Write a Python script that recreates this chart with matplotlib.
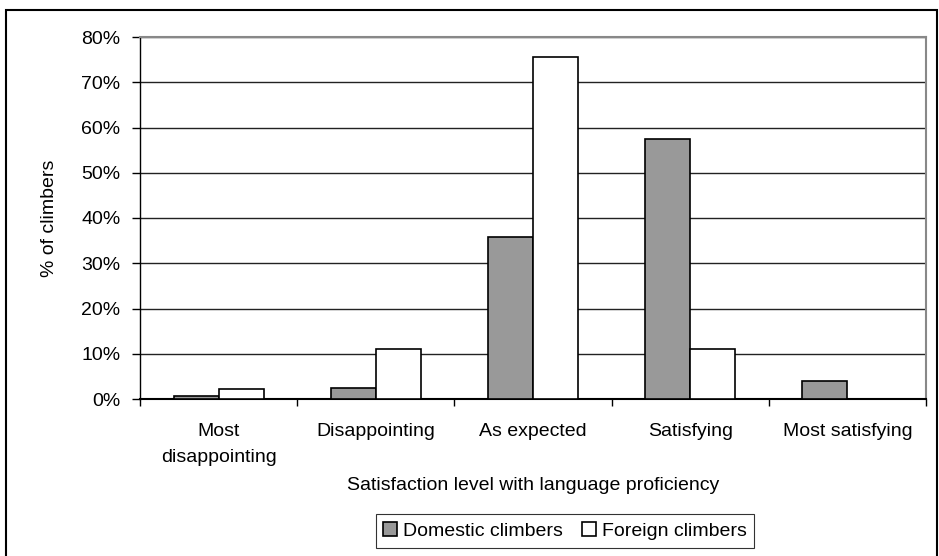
import matplotlib
matplotlib.use("Agg")
import matplotlib.pyplot as plt
import numpy as np
from matplotlib.patches import Rectangle
from matplotlib.ticker import FuncFormatter, MultipleLocator

categories = ["Most\ndisappointing", "Disappointing", "As expected", "Satisfying", "Most satisfying"]
domestic = [0.7, 2.4, 35.8, 57.4, 4.0]
foreign = [2.1, 11.1, 75.6, 11.1, 0.0]
series_names = ["Domestic climbers", "Foreign climbers"]

plt.rcParams["font.family"] = ["Liberation Sans", "DejaVu Sans"]
plt.rcParams["font.size"] = 14

W, H = 939, 556
fig = plt.figure(figsize=(W / 100, H / 100), dpi=100)
ax = fig.add_axes([140 / W, 1 - 399 / H, (926 - 140) / W, (399 - 37) / H])

x = np.arange(len(categories))
w = 2 / 7
ax.bar(x - w / 2, domestic, w, color="#999999", edgecolor="black", linewidth=1.2, zorder=3,
       label=series_names[0])
ax.bar(x + w / 2, foreign, w, color="white", edgecolor="black", linewidth=1.2, zorder=3,
       label=series_names[1])

ax.set_xlim(-0.5, len(categories) - 0.5)
ax.set_ylim(0, 80)
ax.yaxis.set_major_locator(MultipleLocator(10))
ax.yaxis.set_major_formatter(FuncFormatter(lambda v, p: f"{v:.0f}%"))
ax.grid(axis="y", color="#222222", linewidth=1.0, zorder=0)
ax.set_axisbelow(True)

ax.set_xticks(x)
ax.set_xticklabels(categories, linespacing=1.75)
ax.set_xticks(np.arange(len(categories) + 1) - 0.5, minor=True)
ax.tick_params(axis="x", which="major", length=0, pad=17)
ax.tick_params(axis="x", which="minor", length=5, width=1, color="black")
ax.tick_params(axis="y", length=6, width=1, color="black", pad=8)

for s in ["top", "right"]:
    ax.spines[s].set_color("#888888")
    ax.spines[s].set_linewidth(1.5)
ax.spines["left"].set_color("black")
ax.spines["bottom"].set_color("black")
ax.spines["left"].set_linewidth(1.0)
ax.spines["bottom"].set_linewidth(1.5)

ax.set_ylabel("% of climbers", labelpad=17)
ax.set_xlabel("Satisfaction level with language proficiency", labelpad=8)

leg = ax.legend(loc="center", bbox_to_anchor=(0.5 * (373 + 757) / W, 1 - 531 / H),
                bbox_transform=fig.transFigure, ncol=2, frameon=True, fancybox=False,
                edgecolor="black", handlelength=0.7, handleheight=0.7, handletextpad=0.3,
                columnspacing=1.0, borderpad=0.4)
leg.get_frame().set_linewidth(0.8)

# outer chart border
fig.patches.append(Rectangle((6 / W, -0.05), (937 - 6) / W, 1.05 - 10 / H, transform=fig.transFigure,
                             fill=False, edgecolor="black", linewidth=1.5))

fig.savefig("out.png", dpi=100)
